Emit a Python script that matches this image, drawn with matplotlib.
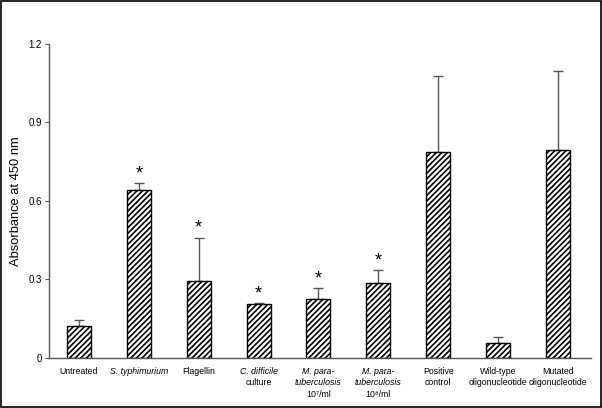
import numpy as np
import matplotlib.pyplot as plt
from matplotlib.patches import Rectangle
from matplotlib.transforms import blended_transform_factory

plt.rcParams["font.family"] = ["Liberation Sans", "DejaVu Sans"]
plt.rcParams["hatch.linewidth"] = 1.2

# label lines: (text, italic)
etiquetas = [
    [("Untreated", False)],
    [("S. typhimurium", True)],
    [("Flagellin", False)],
    [("C. difficile", True), ("culture", False)],
    [("M. para-", True), ("tuberculosis", True), ("10⁷/ml", False)],
    [("M. para-", True), ("tuberculosis", True), ("10⁸/ml", False)],
    [("Positive", False), ("control", False)],
    [("Wild-type", False), ("oligonucleotide", False)],
    [("Mutated", False), ("oligonucleotide", False)],
]
absorbancia = [0.122, 0.642, 0.296, 0.207, 0.226, 0.288, 0.786, 0.057, 0.795]
erro_sup = [0.024, 0.027, 0.164, 0.004, 0.042, 0.049, 0.290, 0.025, 0.303]
significativo = [False, True, True, True, True, True, False, False, False]

fig = plt.figure(figsize=(6.02, 4.08), dpi=100)
ax = fig.add_axes([0.0814, 0.1225, 0.9, 0.770])

x = np.arange(len(absorbancia))
ax.bar(x, absorbancia, width=0.4, color="white", edgecolor="black",
       hatch="//////", linewidth=1.0, zorder=2)
ax.errorbar(x, absorbancia, yerr=[np.zeros(len(x)), erro_sup], fmt="none",
            ecolor="#555555", elinewidth=1.0, capsize=3.5, capthick=1.0, zorder=1)

for xi, v, e, s in zip(x, absorbancia, erro_sup, significativo):
    if s:
        ax.text(xi, v + e + 0.003, "*", ha="center", va="bottom", fontsize=13)

trans = blended_transform_factory(ax.transData, ax.transAxes)
for xi, linhas in zip(x, etiquetas):
    for k, (txt, it) in enumerate(linhas):
        ax.text(xi, -0.027 - k * 0.038, txt, transform=trans, ha="center",
                va="top", fontsize=6.3, style="italic" if it else "normal")

ax.set_xlim(-0.5, 8.55)
ax.set_ylim(0, 1.2)
ax.set_yticks([0, 0.3, 0.6, 0.9, 1.2])
ax.set_yticklabels(["0", "0.3", "0.6", "0.9", "1.2"], fontsize=7)
ax.set_xticks([])
ax.set_ylabel("Absorbance at 450 nm", fontsize=9.3)
ax.yaxis.set_label_coords(-0.049, 0.5)
ax.tick_params(axis="y", length=3, width=0.8, color="#555555", pad=2)
for lado in ["top", "right"]:
    ax.spines[lado].set_visible(False)
for lado in ["left", "bottom"]:
    ax.spines[lado].set_color("#555555")
    ax.spines[lado].set_linewidth(1.0)

fig.patches.append(Rectangle((0.001, 0.002), 0.997, 0.996, transform=fig.transFigure,
                             fill=False, edgecolor="black", linewidth=1.2))

fig.savefig("out.png", dpi=100)
